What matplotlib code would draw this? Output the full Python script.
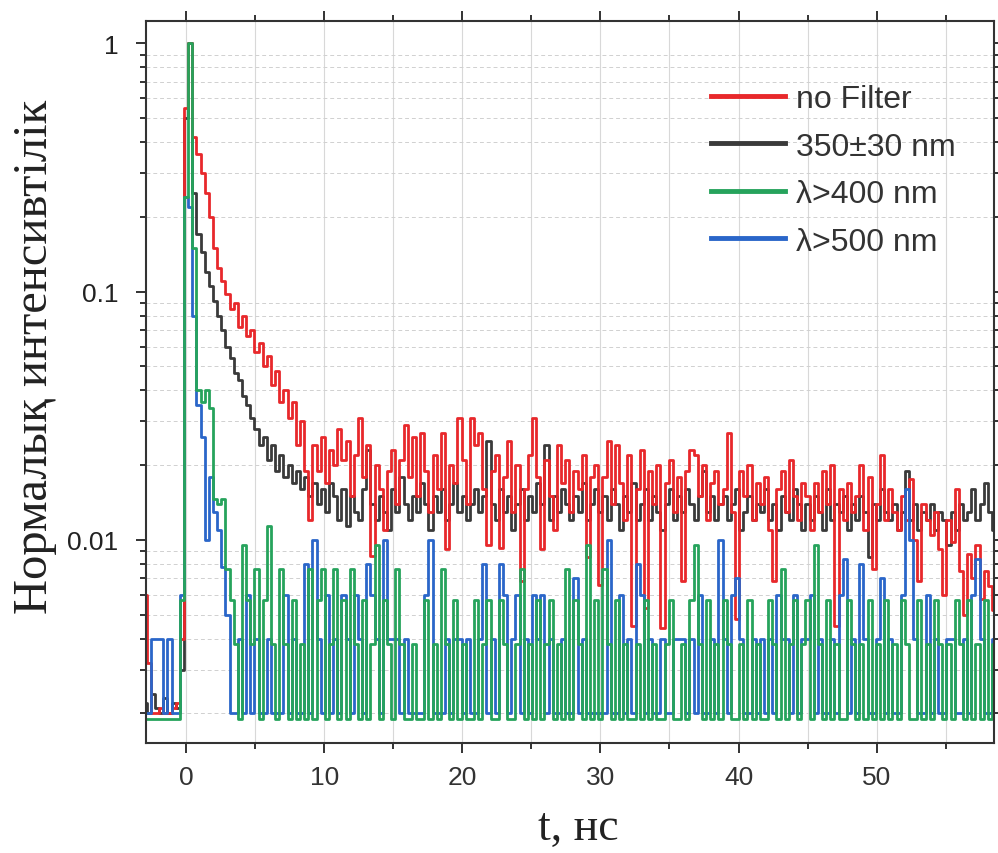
import numpy as np
import matplotlib
matplotlib.use("Agg")
import matplotlib.pyplot as plt
from matplotlib.ticker import LogLocator, NullFormatter, MultipleLocator

# time bins: 0.3 ns, starting at -3 ns
t0, dt = -3.0, 0.3

no_filter = [
    0.0060, 0.0032, 0.0020, 0.0020, 0.0021, 0.0020, 0.0020, 0.0021, 0.0022, 0.0040,
    0.55, 1.0, 0.42, 0.36, 0.30, 0.25, 0.20, 0.15, 0.125, 0.11,
    0.098, 0.085, 0.090, 0.072, 0.080, 0.066, 0.070, 0.057, 0.062, 0.050,
    0.055, 0.042, 0.048, 0.036, 0.040, 0.031, 0.036, 0.024, 0.030, 0.019,
    0.012, 0.024, 0.019, 0.026, 0.017, 0.023, 0.020, 0.028, 0.021, 0.025,
    0.015, 0.022, 0.031, 0.018, 0.024, 0.0086, 0.020, 0.016, 0.011, 0.019,
    0.023, 0.014, 0.021, 0.029, 0.018, 0.026, 0.015, 0.027, 0.019, 0.013,
    0.022, 0.016, 0.027, 0.0092, 0.020, 0.017, 0.031, 0.021, 0.014, 0.031,
    0.024, 0.027, 0.016, 0.0095, 0.019, 0.022, 0.0093, 0.018, 0.025, 0.013,
    0.020, 0.0068, 0.016, 0.022, 0.031, 0.018, 0.0092, 0.021, 0.015, 0.011,
    0.024, 0.017, 0.021, 0.013, 0.019, 0.016, 0.022, 0.0085, 0.018, 0.020,
    0.0066, 0.018, 0.025, 0.014, 0.024, 0.017, 0.012, 0.022, 0.0045, 0.016,
    0.023, 0.0053, 0.019, 0.014, 0.020, 0.0044, 0.017, 0.021, 0.013, 0.018,
    0.0068, 0.019, 0.023, 0.022, 0.015, 0.020, 0.012, 0.017, 0.019, 0.014,
    0.016, 0.027, 0.013, 0.0048, 0.019, 0.015, 0.020, 0.012, 0.017, 0.014,
    0.018, 0.011, 0.0068, 0.016, 0.019, 0.013, 0.021, 0.015, 0.012, 0.017,
    0.015, 0.011, 0.017, 0.013, 0.019, 0.014, 0.020, 0.0045, 0.016, 0.012,
    0.017, 0.013, 0.015, 0.020, 0.011, 0.018, 0.0076, 0.014, 0.022, 0.012,
    0.016, 0.013, 0.011, 0.015, 0.012, 0.0176, 0.010, 0.0068, 0.014, 0.012,
    0.0105, 0.013, 0.0092, 0.006, 0.012, 0.0098, 0.016, 0.0075, 0.005, 0.0088,
    0.0070, 0.0095, 0.0058, 0.0075, 0.0065, 0.0052,
]

filter_350 = [
    0.0022, 0.0020, 0.0024, 0.0021, 0.0020, 0.0023, 0.0020, 0.0022, 0.0021, 0.0030,
    0.5, 1.0, 0.25, 0.17, 0.145, 0.12, 0.105, 0.092, 0.080, 0.070,
    0.060, 0.054, 0.047, 0.044, 0.038, 0.035, 0.031, 0.028, 0.024, 0.026,
    0.021, 0.024, 0.019, 0.022, 0.018, 0.020, 0.017, 0.019, 0.016, 0.018,
    0.015, 0.017, 0.014, 0.016, 0.013, 0.017, 0.015, 0.012, 0.016, 0.0114,
    0.015, 0.013, 0.012, 0.016, 0.023, 0.014, 0.012, 0.015, 0.013, 0.011,
    0.016, 0.013, 0.018, 0.014, 0.012, 0.015, 0.013, 0.017, 0.014, 0.011,
    0.015, 0.013, 0.016, 0.012, 0.014, 0.017, 0.013, 0.015, 0.012, 0.014,
    0.016, 0.013, 0.015, 0.025, 0.014, 0.012, 0.016, 0.013, 0.015, 0.011,
    0.014, 0.016, 0.012, 0.015, 0.013, 0.017, 0.014, 0.024, 0.012, 0.015,
    0.013, 0.016, 0.014, 0.012, 0.015, 0.013, 0.017, 0.012, 0.014, 0.016,
    0.013, 0.015, 0.012, 0.016, 0.014, 0.011, 0.015, 0.013, 0.017, 0.012,
    0.014, 0.016, 0.012, 0.015, 0.013, 0.011, 0.014, 0.016, 0.012, 0.015,
    0.013, 0.016, 0.014, 0.012, 0.015, 0.019, 0.013, 0.015, 0.012, 0.014,
    0.015, 0.012, 0.014, 0.016, 0.011, 0.013, 0.015, 0.012, 0.014, 0.013,
    0.016, 0.012, 0.014, 0.011, 0.015, 0.013, 0.012, 0.016, 0.014, 0.011,
    0.014, 0.012, 0.015, 0.013, 0.011, 0.016, 0.012, 0.014, 0.013, 0.015,
    0.011, 0.014, 0.012, 0.015, 0.013, 0.0085, 0.014, 0.012, 0.016, 0.013,
    0.012, 0.014, 0.011, 0.013, 0.019, 0.012, 0.014, 0.011, 0.013, 0.012,
    0.014, 0.011, 0.013, 0.012, 0.0095, 0.013, 0.011, 0.014, 0.012, 0.013,
    0.016, 0.012, 0.014, 0.017, 0.013, 0.011,
]

filter_400 = [
    0.0019, 0.0019, 0.0019, 0.0019, 0.0019, 0.0019, 0.0019, 0.0019, 0.0019, 0.0057,
    0.24, 1.0, 0.15, 0.040, 0.036, 0.040, 0.034, 0.0146, 0.014, 0.0146,
    0.0076, 0.0057, 0.0038, 0.0019, 0.0095, 0.0057, 0.0038, 0.0076, 0.0019, 0.0057,
    0.0114, 0.0038, 0.0019, 0.0076, 0.0038, 0.0019, 0.0057, 0.0019, 0.0038, 0.0019,
    0.0076, 0.0019, 0.0057, 0.0076, 0.0019, 0.0038, 0.0076, 0.0019, 0.0057, 0.0019,
    0.0076, 0.0038, 0.0019, 0.0057, 0.0019, 0.0038, 0.0095, 0.0019, 0.0057, 0.0038,
    0.0019, 0.0076, 0.0038, 0.0019, 0.0019, 0.0038, 0.0019, 0.0019, 0.0057, 0.0019,
    0.0038, 0.0019, 0.0076, 0.0038, 0.0019, 0.0057, 0.0019, 0.0038, 0.0019, 0.0019,
    0.0057, 0.0019, 0.0038, 0.0057, 0.0019, 0.0019, 0.0057, 0.0038, 0.0019, 0.0019,
    0.0038, 0.0076, 0.0019, 0.0038, 0.0019, 0.0057, 0.0019, 0.0038, 0.0057, 0.0019,
    0.0038, 0.0019, 0.0076, 0.0019, 0.0057, 0.0038, 0.0019, 0.0095, 0.0019, 0.0057,
    0.0019, 0.0076, 0.0038, 0.0019, 0.0057, 0.0019, 0.0038, 0.0019, 0.0019, 0.0038,
    0.0019, 0.0057, 0.0019, 0.0038, 0.0019, 0.0019, 0.0038, 0.0057, 0.0019, 0.0019,
    0.0038, 0.0019, 0.0057, 0.0095, 0.0038, 0.0019, 0.0057, 0.0019, 0.0038, 0.0019,
    0.0057, 0.0038, 0.0019, 0.0019, 0.0038, 0.0019, 0.0057, 0.0019, 0.0038, 0.0019,
    0.0019, 0.0057, 0.0038, 0.0019, 0.0076, 0.0019, 0.0038, 0.0057, 0.0019, 0.0038,
    0.0057, 0.0019, 0.0095, 0.0038, 0.0019, 0.0057, 0.0019, 0.0038, 0.0019, 0.0019,
    0.0057, 0.0038, 0.0019, 0.0038, 0.0019, 0.0057, 0.0019, 0.0038, 0.0019, 0.0057,
    0.0019, 0.0038, 0.0019, 0.0057, 0.0038, 0.0019, 0.0019, 0.0057, 0.0019, 0.0038,
    0.0019, 0.0057, 0.0038, 0.0019, 0.0038, 0.0019, 0.0057, 0.0038, 0.0019, 0.0057,
    0.0019, 0.0038, 0.0019, 0.0057, 0.0019, 0.0038,
]

filter_500 = [
    0.0020, 0.0020, 0.0040, 0.0040, 0.0040, 0.0020, 0.0040, 0.0020, 0.0020, 0.0060,
    0.24, 0.22, 0.08, 0.035, 0.026, 0.010, 0.018, 0.013, 0.011, 0.0078,
    0.0050, 0.0020, 0.0020, 0.0040, 0.0020, 0.0060, 0.0020, 0.0040, 0.0020, 0.0020,
    0.0040, 0.0020, 0.0020, 0.0020, 0.0060, 0.0020, 0.0040, 0.0020, 0.0020, 0.0080,
    0.0020, 0.0100, 0.0040, 0.0020, 0.0060, 0.0020, 0.0040, 0.0020, 0.0060, 0.0040,
    0.0020, 0.0060, 0.0040, 0.0020, 0.0080, 0.0060, 0.0040, 0.0020, 0.0100, 0.0040,
    0.0040, 0.0040, 0.0020, 0.0040, 0.0020, 0.0020, 0.0020, 0.0020, 0.0060, 0.0100,
    0.0020, 0.0020, 0.0020, 0.0040, 0.0020, 0.0040, 0.0040, 0.0020, 0.0040, 0.0020,
    0.0020, 0.0040, 0.0080, 0.0020, 0.0040, 0.0020, 0.0080, 0.0060, 0.0020, 0.0040,
    0.0060, 0.0020, 0.0040, 0.0020, 0.0060, 0.0040, 0.0060, 0.0020, 0.0040, 0.0020,
    0.0020, 0.0040, 0.0020, 0.0020, 0.0070, 0.0020, 0.0040, 0.0020, 0.0020, 0.0020,
    0.0020, 0.0020, 0.0100, 0.0020, 0.0020, 0.0060, 0.0020, 0.0040, 0.0020, 0.0080,
    0.0060, 0.0020, 0.0040, 0.0020, 0.0020, 0.0040, 0.0020, 0.0020, 0.0040, 0.0040,
    0.0040, 0.0020, 0.0040, 0.0020, 0.0060, 0.0020, 0.0020, 0.0040, 0.0020, 0.0100,
    0.0040, 0.0020, 0.0060, 0.0070, 0.0040, 0.0020, 0.0020, 0.0040, 0.0020, 0.0040,
    0.0020, 0.0040, 0.0020, 0.0060, 0.0040, 0.0040, 0.0020, 0.0060, 0.0020, 0.0040,
    0.0040, 0.0060, 0.0020, 0.0040, 0.0020, 0.0020, 0.0040, 0.0020, 0.0060, 0.0084,
    0.0020, 0.0040, 0.0020, 0.0080, 0.0040, 0.0020, 0.0020, 0.0040, 0.0070, 0.0020,
    0.0040, 0.0020, 0.0020, 0.0060, 0.0160, 0.0100, 0.0040, 0.0020, 0.0020, 0.0060,
    0.0020, 0.0040, 0.0020, 0.0020, 0.0040, 0.0040, 0.0020, 0.0020, 0.0040, 0.0020,
    0.0060, 0.0084, 0.0040, 0.0020, 0.0020, 0.0040,
]

labels = ['no Filter', '350\u00b130 nm', '\u03bb>400 nm', '\u03bb>500 nm']
colors = ['#e8282b', '#3a3a3a', '#26a35c', '#2a66c9']
series = [no_filter, filter_350, filter_400, filter_500]

fig = plt.figure(figsize=(9.98, 8.54), dpi=100)
ax = fig.add_axes([0.1463, 0.1288, 0.8497, 0.8454])

# draw order: black, red, blue, green on top (legend order kept)
handles = {}
for idx in [1, 0, 3, 2]:
    y = np.array(series[idx])
    t = t0 + dt * np.arange(len(y))
    ln, = ax.plot(t, y, color=colors[idx], lw=2.0, drawstyle='steps-mid',
                  label=labels[idx])
    handles[idx] = ln

ax.set_yscale('log')
ax.set_xlim(-2.9, 58.5)
ax.set_ylim(0.00152, 1.23)

ax.xaxis.set_major_locator(MultipleLocator(10))
ax.xaxis.set_minor_locator(MultipleLocator(5))
ax.set_yticks([0.01, 0.1, 1])
ax.set_yticklabels(['0.01', '0.1', '1'])
ax.yaxis.set_minor_locator(LogLocator(base=10, subs=np.arange(2, 10)))
ax.yaxis.set_minor_formatter(NullFormatter())

ax.grid(which='both', axis='x', color='#d8d8d8', lw=0.8, ls='-')
ax.grid(which='minor', axis='y', color='#d0d0d0', lw=0.7, ls=(0, (4, 3)))
ax.set_axisbelow(True)

for s in ax.spines.values():
    s.set_linewidth(1.5)
    s.set_color('#333333')

ax.tick_params(which='both', direction='out', top=True, right=True,
               width=1.4, color='#333333')
ax.tick_params(which='major', length=7)
ax.tick_params(which='minor', length=4)
ax.tick_params(axis='x', which='major', labelsize=19, pad=9, labelcolor='#333333')
ax.tick_params(axis='y', which='major', labelsize=19, pad=13, labelcolor='#222222')
for lab in ax.get_xticklabels() + ax.get_yticklabels():
    lab.set_family('Liberation Sans')

leg = ax.legend([handles[i] for i in range(4)], labels, loc='upper left',
                bbox_to_anchor=(0.648, 0.935), frameon=False, borderpad=0,
                handlelength=2.3, handletextpad=0.35, labelspacing=0.55,
                prop={'family': 'Liberation Sans', 'size': 23})
for h in leg.get_lines():
    h.set_linewidth(3.5)
for txt in leg.get_texts():
    txt.set_color('#333333')

fig.text(0.035, 0.582, 'Нормалық интенсивтілік', rotation=90, ha='center',
         va='center', family='Liberation Serif', fontsize=35, color='#222222')
fig.text(0.579, 0.030, 't, нс', ha='center', va='center',
         family='Liberation Serif', fontsize=33, color='#222222')

fig.savefig('out.png', dpi=100)
